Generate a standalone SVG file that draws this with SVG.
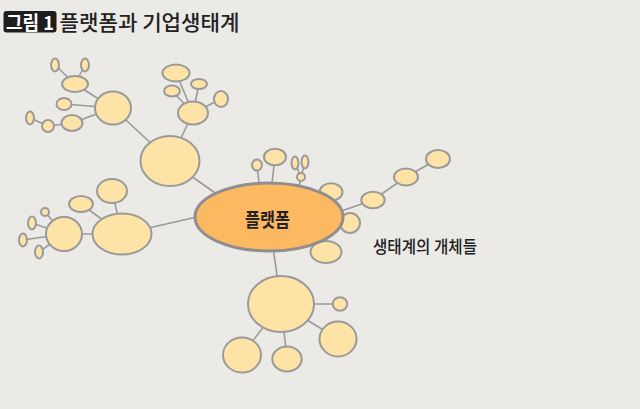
<svg xmlns="http://www.w3.org/2000/svg" width="640" height="409" viewBox="0 0 640 409">
<style>
.n{fill:#fee3a6;stroke:#9a9a9a;stroke-width:2}
.c line{stroke:#9a9a9a;stroke-width:1.6}
.k{font-family:"Noto Sans CJK KR","Noto Sans",sans-serif}
</style>
<rect width="640" height="409" fill="#ebeae6"/>
<g id="title">
<rect x="3.5" y="11" width="53" height="21.5" rx="3" fill="#1e1e1e"/>
<text class="k" x="6" y="29.5" font-size="19" font-weight="bold" fill="#fff" textLength="48" lengthAdjust="spacingAndGlyphs">그림 1</text>
<text class="k" x="59.5" y="30" font-size="21" font-weight="500" fill="#222" textLength="180" lengthAdjust="spacingAndGlyphs">플랫폼과 기업생태계</text>
</g>
<g class="c" id="connectors">
<line x1="170" y1="161" x2="113" y2="108"/>
<line x1="170" y1="161" x2="193" y2="113"/>
<line x1="170" y1="161" x2="225" y2="200"/>
<line x1="113" y1="108" x2="75" y2="84"/>
<line x1="75" y1="84" x2="55" y2="65"/>
<line x1="75" y1="84" x2="85" y2="65"/>
<line x1="113" y1="108" x2="64" y2="104"/>
<line x1="113" y1="108" x2="72" y2="123"/>
<line x1="72" y1="123" x2="48" y2="126"/>
<line x1="48" y1="126" x2="30" y2="118"/>
<line x1="193" y1="113" x2="176" y2="73"/>
<line x1="193" y1="113" x2="172" y2="91"/>
<line x1="193" y1="113" x2="199" y2="84"/>
<line x1="193" y1="113" x2="221" y2="99"/>
<line x1="122" y1="234" x2="210" y2="214"/>
<line x1="122" y1="234" x2="64" y2="234"/>
<line x1="122" y1="234" x2="112" y2="191"/>
<line x1="122" y1="234" x2="81" y2="204"/>
<line x1="64" y1="234" x2="45" y2="212"/>
<line x1="64" y1="234" x2="32" y2="223"/>
<line x1="64" y1="234" x2="23" y2="240"/>
<line x1="64" y1="234" x2="39" y2="252"/>
<line x1="257" y1="165" x2="261" y2="200"/>
<line x1="275" y1="157" x2="270" y2="200"/>
<line x1="301" y1="177" x2="296" y2="200"/>
<line x1="301" y1="177" x2="295" y2="163"/>
<line x1="301" y1="177" x2="305" y2="162"/>
<line x1="330" y1="215" x2="373" y2="200"/>
<line x1="373" y1="200" x2="406" y2="177"/>
<line x1="406" y1="177" x2="438" y2="159"/>
<line x1="272" y1="240" x2="281" y2="304"/>
<line x1="281" y1="304" x2="340" y2="304"/>
<line x1="281" y1="304" x2="338" y2="339"/>
<line x1="281" y1="304" x2="242" y2="355"/>
<line x1="281" y1="304" x2="287" y2="359"/>
</g>
<g id="n-topleft">
<ellipse class="n" cx="170" cy="161" rx="29.5" ry="25"/>
<ellipse class="n" cx="113" cy="108" rx="18" ry="16.5"/>
<ellipse class="n" cx="75" cy="84" rx="13" ry="8"/>
<ellipse class="n" cx="55" cy="65" rx="4" ry="6.5"/>
<ellipse class="n" cx="85" cy="65" rx="4" ry="6.5"/>
<ellipse class="n" cx="64" cy="104" rx="7.5" ry="6"/>
<ellipse class="n" cx="72" cy="123" rx="10.5" ry="8"/>
<ellipse class="n" cx="48" cy="126" rx="6" ry="6"/>
<ellipse class="n" cx="30" cy="118" rx="4" ry="6.5"/>
<ellipse class="n" cx="193" cy="113" rx="15" ry="11.5"/>
<ellipse class="n" cx="176" cy="73" rx="13.5" ry="8.5"/>
<ellipse class="n" cx="199" cy="84" rx="8" ry="5"/>
<ellipse class="n" cx="172" cy="91" rx="8" ry="5.5"/>
<ellipse class="n" cx="221" cy="99" rx="7" ry="8"/>
</g>
<g id="n-left">
<ellipse class="n" cx="122" cy="234" rx="29.5" ry="20.5"/>
<ellipse class="n" cx="112" cy="191" rx="15" ry="12"/>
<ellipse class="n" cx="81" cy="204" rx="12" ry="8"/>
<ellipse class="n" cx="64" cy="234" rx="18" ry="17"/>
<ellipse class="n" cx="45" cy="212" rx="4" ry="4"/>
<ellipse class="n" cx="32" cy="223" rx="4" ry="6.5"/>
<ellipse class="n" cx="23" cy="240" rx="4" ry="6.5"/>
<ellipse class="n" cx="39" cy="252" rx="4" ry="6.5"/>
</g>
<g id="n-top">
<ellipse class="n" cx="257" cy="165" rx="5" ry="5.5"/>
<ellipse class="n" cx="275" cy="157" rx="11" ry="8.3"/>
<ellipse class="n" cx="295" cy="163" rx="3.5" ry="6.5"/>
<ellipse class="n" cx="305" cy="162" rx="3.5" ry="6.5"/>
<ellipse class="n" cx="301" cy="177" rx="4" ry="4"/>
</g>
<g id="n-right">
<ellipse class="n" cx="331" cy="192" rx="11.5" ry="8.7"/>
<ellipse class="n" cx="350" cy="223" rx="10" ry="10"/>
<ellipse class="n" cx="326" cy="252" rx="15.5" ry="11"/>
<ellipse class="n" cx="373" cy="200" rx="11.7" ry="8.3"/>
<ellipse class="n" cx="406" cy="177" rx="12" ry="8.5"/>
<ellipse class="n" cx="438" cy="159" rx="12" ry="9"/>
</g>
<g id="platform">
<ellipse cx="269" cy="217" rx="74" ry="34" fill="#fdb862" stroke="#8f8f8f" stroke-width="3"/>
<text class="k" x="267.5" y="226.5" font-size="19" font-weight="bold" fill="#222" text-anchor="middle" textLength="45" lengthAdjust="spacingAndGlyphs">플랫폼</text>
</g>
<g id="n-bottom">
<ellipse class="n" cx="281" cy="304" rx="33" ry="28"/>
<ellipse class="n" cx="340" cy="304" rx="7.2" ry="6.7"/>
<ellipse class="n" cx="338" cy="339" rx="18.5" ry="17.5"/>
<ellipse class="n" cx="242" cy="355" rx="19" ry="17.5"/>
<ellipse class="n" cx="287" cy="359" rx="14.7" ry="12.5"/>
</g>
<g id="label">
<text class="k" x="373" y="253" font-size="17" font-weight="500" fill="#222" textLength="104" lengthAdjust="spacingAndGlyphs">생태계의 개체들</text>
</g>
</svg>
